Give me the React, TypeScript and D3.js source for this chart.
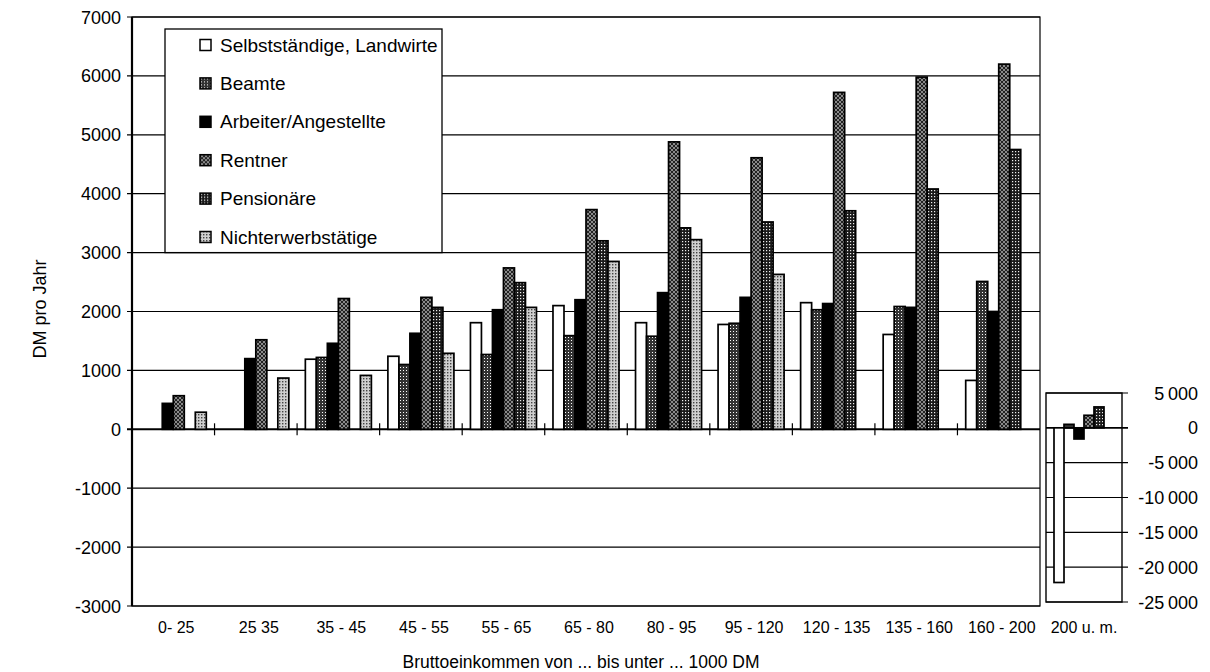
import * as d3 from "d3";

const categories = ["0- 25", "25 35", "35 - 45", "45 - 55", "55 - 65", "65 - 80", "80 - 95", "95 - 120", "120 - 135", "135 - 160", "160 - 200"];
const seriesNames = ["Selbstständige, Landwirte", "Beamte", "Arbeiter/Angestellte", "Rentner", "Pensionäre", "Nichterwerbstätige"];

const selbst = [0, 0, 1190, 1240, 1810, 2100, 1810, 1780, 2150, 1610, 830];
const beamte = [0, 0, 1220, 1100, 1270, 1590, 1580, 1800, 2030, 2085, 2510];
const arbeiter = [440, 1200, 1460, 1630, 2030, 2200, 2320, 2240, 2135, 2070, 2000];
const rentner = [570, 1520, 2220, 2240, 2740, 3730, 4880, 4610, 5720, 5980, 6200];
const pension = [0, 0, 0, 2070, 2490, 3200, 3420, 3520, 3710, 4080, 4750];
const nicht = [290, 870, 915, 1290, 2070, 2850, 3220, 2630, 0, 0, 0];

// last group has its own axis
const topCategory = "200 u. m.";
const topValues = [-22200, 500, -1600, 1800, 3000, 0];

const mainTicks = [-3000, -2000, -1000, 0, 1000, 2000, 3000, 4000, 5000, 6000, 7000];
const insetTicks = [-25000, -20000, -15000, -10000, -5000, 0, 5000];
const insetTickLabels = ["-25\u2009000", "-20\u2009000", "-15\u2009000", "-10\u2009000", "-5\u2009000", "0", "5\u2009000"];

const allSeries = [selbst, beamte, arbeiter, rentner, pension, nicht];
const fills = ["#fff", "url(#pBeamte)", "#000", "url(#pRentner)", "url(#pPension)", "url(#pNicht)"];

const font = "'Liberation Sans', Arial, sans-serif";

function App() {
    const plotLeft = 132, plotRight = 1040, plotTop = 17, plotBottom = 606;
    const inLeft = 1046, inRight = 1122, inTop = 393, inBottom = 602;

    const x = d3.scaleBand().domain(categories).range([plotLeft, plotRight]);
    const x1 = d3.scaleBand().domain(seriesNames).range([0, x.bandwidth()]).paddingOuter(0.75);
    const y = d3.scaleLinear().domain([-3000, 7000]).range([plotBottom, plotTop]);

    const xi = d3.scaleBand().domain([topCategory]).range([inLeft, inRight]);
    const xi1 = d3.scaleBand().domain(seriesNames).range([0, xi.bandwidth()]).paddingOuter(0.8);
    const yi = d3.scaleLinear().domain([-25000, 5000]).range([inBottom, inTop]);

    return (
        <svg width={1210} height={672} style={{position: "absolute", left: 0, top: 0, background: "#fff"}} fontFamily={font}>
            <defs>
                <pattern id="pBeamte" width={3} height={3} patternUnits="userSpaceOnUse">
                    <rect width={3} height={3} fill="#333"/>
                    <rect x={1} y={1} width={1} height={1} fill="#fff"/>
                </pattern>
                <pattern id="pRentner" width={4} height={4} patternUnits="userSpaceOnUse">
                    <rect width={4} height={4} fill="#8a8a8a"/>
                    <path d="M0,0 L4,4 M4,0 L0,4" stroke="#222" strokeWidth={1}/>
                </pattern>
                <pattern id="pPension" width={3} height={3} patternUnits="userSpaceOnUse">
                    <rect width={3} height={3} fill="#1a1a1a"/>
                    <rect x={1} y={1} width={1.2} height={1.2} fill="#eee"/>
                </pattern>
                <pattern id="pNicht" width={3} height={3} patternUnits="userSpaceOnUse">
                    <rect width={3} height={3} fill="#cfcfcf"/>
                    <rect x={0} y={0} width={1.4} height={1.4} fill="#444"/>
                </pattern>
            </defs>

            {/* gridlines main */}
            {mainTicks.map(t => (
                <g key={"g" + t}>
                    <line x1={plotLeft - 5} x2={plotRight} y1={y(t)} y2={y(t)} stroke="#000" strokeWidth={t === 0 ? 2 : 1.2}/>
                    <text x={121} y={y(t) + 6.5} textAnchor="end" fontSize={18}>{t}</text>
                </g>
            ))}
            <rect x={plotLeft} y={plotTop} width={plotRight - plotLeft} height={plotBottom - plotTop} fill="none" stroke="#000" strokeWidth={1.2}/>
            <line x1={plotLeft} x2={plotLeft} y1={plotTop} y2={plotBottom} stroke="#000" strokeWidth={2.2}/>

            {/* bars */}
            {categories.map((c, i) => (
                <g key={c}>
                    {allSeries.map((s, k) => s[i] === 0 ? null : (
                        <rect key={k}
                              x={(x(c) as number) + (x1(seriesNames[k]) as number)}
                              y={y(Math.max(0, s[i]))}
                              width={x1.bandwidth()}
                              height={Math.abs(y(s[i]) - y(0))}
                              fill={fills[k]} stroke="#000" strokeWidth={1.7}/>
                    ))}
                </g>
            ))}
            {categories.map((c, i) => i === 0 ? null : (
                <line key={"t" + c} x1={x(c)} x2={x(c)} y1={y(0) - 6} y2={y(0) + 6} stroke="#000" strokeWidth={1.2}/>
            ))}
            {categories.map(c => (
                <text key={"l" + c} x={(x(c) as number) + x.bandwidth() / 2 + 3} y={633} textAnchor="middle" fontSize={16}>{c}</text>
            ))}

            {/* inset for the top income group */}
            {insetTicks.map((t, i) => (
                <g key={"i" + t}>
                    <line x1={inLeft} x2={inRight + 6} y1={yi(t)} y2={yi(t)} stroke="#000" strokeWidth={t === 0 ? 1.6 : 1.1}/>
                    <text x={1198} y={yi(t) + 6.5} textAnchor="end" fontSize={18}>{insetTickLabels[i]}</text>
                </g>
            ))}
            <rect x={inLeft} y={inTop} width={inRight - inLeft} height={inBottom - inTop} fill="none" stroke="#000" strokeWidth={1.4}/>
            {topValues.map((v, k) => v === 0 ? null : (
                <rect key={"iv" + k}
                      x={(xi(topCategory) as number) + (xi1(seriesNames[k]) as number)}
                      y={yi(Math.max(0, v))}
                      width={xi1.bandwidth()}
                      height={Math.abs(yi(v) - yi(0))}
                      fill={fills[k]} stroke="#000" strokeWidth={1.7}/>
            ))}
            <text x={(xi(topCategory) as number) + xi.bandwidth() / 2} y={633} textAnchor="middle" fontSize={16}>{topCategory}</text>

            {/* legend */}
            <rect x={165} y={29} width={277} height={y(3000) - 29} fill="#fff" stroke="#000" strokeWidth={1.3}/>
            {seriesNames.map((n, k) => (
                <g key={"lg" + n} transform={`translate(200, ${45 + k * 38.4})`}>
                    <rect x={0} y={-5.5} width={11} height={11} fill={fills[k]} stroke="#000" strokeWidth={1.5}/>
                    <text x={20} y={6.5} fontSize={19}>{n}</text>
                </g>
            ))}

            <text transform="translate(46, 309) rotate(-90)" textAnchor="middle" fontSize={18}>DM pro Jahr</text>
            <text x={581} y={668} textAnchor="middle" fontSize={17.5}>Bruttoeinkommen von ... bis unter ... 1000 DM</text>
        </svg>
    );
}

export default App;
